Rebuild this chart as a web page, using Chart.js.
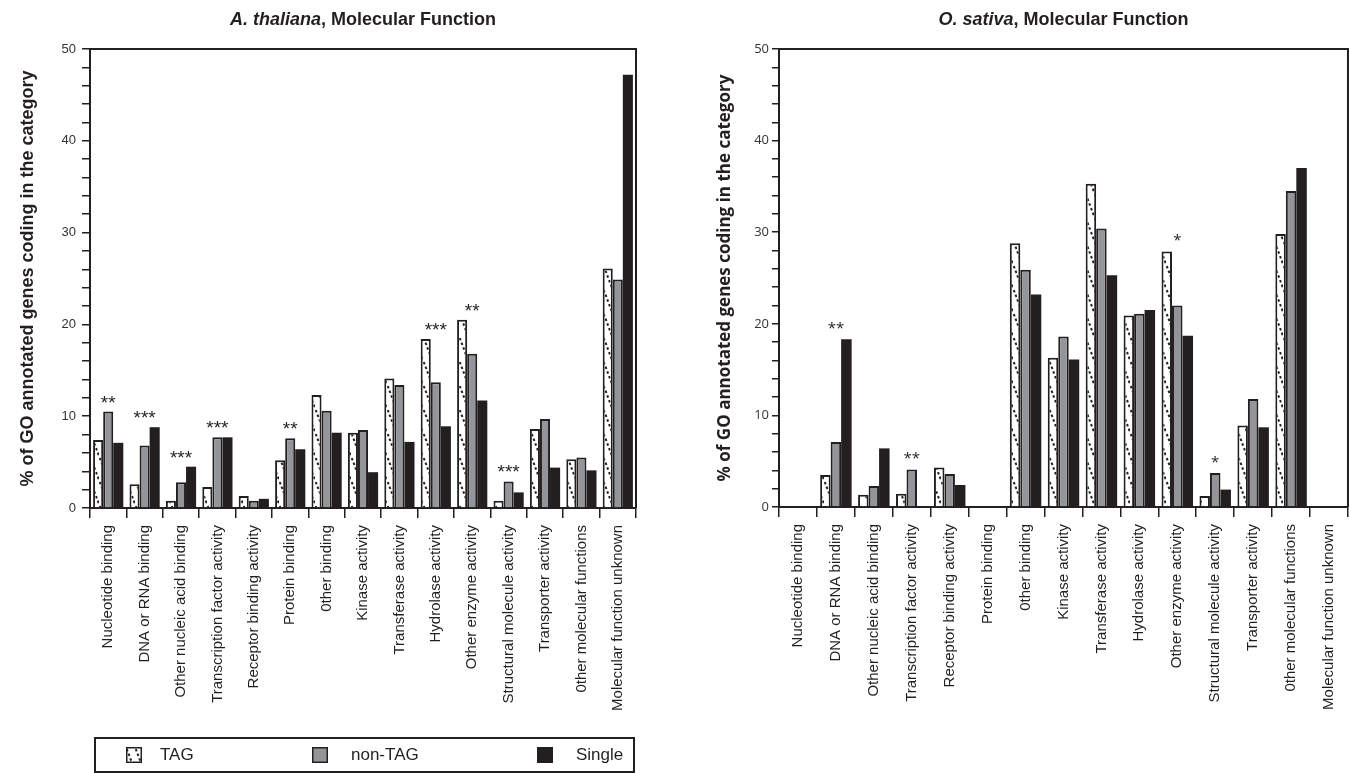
<!DOCTYPE html>
<html><head><meta charset="utf-8">
<script src="https://cdn.jsdelivr.net/npm/chart.js@4.4.0/dist/chart.umd.min.js"></script>
<style>
html,body{margin:0;padding:0;background:#fff;}
#wrap{position:relative;width:1350px;height:773px;overflow:hidden;background:#fff;}
#c1{position:absolute;left:0;top:0;}
#c2{position:absolute;left:680px;top:0;}
#legend{position:absolute;left:94px;top:737px;width:537px;height:32px;border:2px solid #231f20;font-family:"Liberation Sans",Arial,sans-serif;font-size:17px;color:#231f20;}
#legend .ic{position:absolute;top:8px;}
#legend .tx{position:absolute;top:0;line-height:32px;white-space:nowrap;}
</style></head>
<body><div id="wrap">
<canvas id="c1" width="680" height="773"></canvas>
<canvas id="c2" width="674" height="773"></canvas>
<div id="legend"></div>
</div>
<script>
const categories = ['Nucleotide binding','DNA or RNA binding','Other nucleic acid binding','Transcription factor activity','Receptor binding activity','Protein binding','0ther binding','Kinase activity','Transferase activity','Hydrolase activity','Other enzyme activity','Structural molecule activity','Transporter activity','0ther molecular functions','Molecular function unknown'];
const seriesNames = ['TAG','non-TAG','Single'];

const athTAG    = [7.4, 2.6, 0.8, 2.3, 1.3, 5.2, 12.3, 8.2, 14.1, 18.4, 20.5, 0.8, 8.6, 5.3, 26.1];
const athNonTAG = [10.5, 6.8, 2.8, 7.7, 0.8, 7.6, 10.6, 8.5, 13.4, 13.7, 16.8, 2.9, 9.7, 5.5, 24.9];
const athSingle = [7.1, 8.8, 4.5, 7.7, 1.0, 6.4, 8.2, 3.9, 7.2, 8.9, 11.7, 1.7, 4.4, 4.1, 47.2];
const athSig    = ['**','***','***','***','','**','','','','***','**','***','','',''];

const osaTAG    = [null, 3.5, 1.35, 1.45, 4.3, null, 28.8, 16.3, 35.3, 20.9, 27.9, 1.2, 8.9, 29.8, null];
const osaNonTAG = [null, 7.1, 2.3, 4.1, 3.6, null, 25.9, 18.6, 30.4, 21.1, 22.0, 3.7, 11.8, 34.5, null];
const osaSingle = [null, 18.3, 6.4, null, 2.4, null, 23.2, 16.1, 25.3, 21.5, 18.7, 1.9, 8.7, 37.0, null];
const osaSig    = ['','**','','**','','','','','','','*','*','','',''];

const yTitle = '% of GO annotated genes coding in the category';

const INK = '#231f20';
const GRAY = '#939598';
const ARIAL = '"Liberation Sans", Arial, sans-serif';
const MYRIAD = '"Open Sans", "Noto Sans", sans-serif';

function makePattern(){
  const c = document.createElement('canvas');
  c.width = 9; c.height = 24;
  const g = c.getContext('2d');
  g.fillStyle = '#fff'; g.fillRect(0,0,9,24);
  g.strokeStyle = INK; g.lineWidth = 2; g.setLineDash([2.5,2.5]);
  g.beginPath(); g.moveTo(-1,-2.7); g.lineTo(10,26.7); g.stroke();
  return c;
}
const patCanvas = makePattern();
const pattern = document.getElementById('c1').getContext('2d').createPattern(patCanvas,'repeat');
const pattern2 = document.getElementById('c2').getContext('2d').createPattern(patCanvas,'repeat');

const decor = {
  id:'decor',
  afterDraw(chart, args, opts){
    const ctx = chart.ctx, a = chart.chartArea;
    const xs = chart.scales.x, ys = chart.scales.y;
    ctx.save();
    // top and right frame
    ctx.strokeStyle = INK; ctx.lineWidth = 2;
    ctx.beginPath();
    ctx.moveTo(a.left-1, a.top); ctx.lineTo(a.right, a.top); ctx.lineTo(a.right, a.bottom);
    ctx.stroke();
    // title, centred over the plot area
    const cx = (a.left + a.right) / 2;
    ctx.fillStyle = INK; ctx.textBaseline = 'middle';
    const fi = 'italic bold 18px ' + ARIAL, fb = 'bold 18px ' + ARIAL;
    ctx.font = fi; const w1 = ctx.measureText(opts.italic).width;
    ctx.font = fb; const w2 = ctx.measureText(opts.rest).width;
    const sx = cx - (w1+w2)/2;
    ctx.textAlign = 'left';
    ctx.font = fi; ctx.fillText(opts.italic, sx, 20);
    ctx.font = fb; ctx.fillText(opts.rest, sx + w1, 20);
    // significance stars
    ctx.font = opts.starFont;
    ctx.textAlign = 'center'; ctx.textBaseline = 'alphabetic';
    opts.sig.forEach((s,i)=>{
      if(!s) return;
      let m = 0;
      chart.data.datasets.forEach(d=>{ const v = d.data[i]; if(v!=null && v>m) m=v; });
      const x = xs.getPixelForValue(i);
      const y = ys.getPixelForValue(m) - opts.starGap;
      ctx.fillText(s, x, y);
    });
    ctx.restore();
  }
};

function makeChart(id, pat, tag, non, single, cfg){
  return new Chart(document.getElementById(id), {
    type:'bar',
    data:{
      labels: categories,
      datasets:[
        {label:seriesNames[0], data:tag, backgroundColor:pat, borderColor:INK, borderWidth:2},
        {label:seriesNames[1], data:non, backgroundColor:GRAY, borderColor:INK, borderWidth:2},
        {label:seriesNames[2], data:single, backgroundColor:INK, borderColor:INK, borderWidth:0}
      ]
    },
    options:{
      responsive:false, animation:false,
      devicePixelRatio:1,
      categoryPercentage:0.83, barPercentage:1.0,
      layout:{padding:{top:49, right:cfg.padRight, left:cfg.padLeft, bottom:0}},
      plugins:{
        legend:{display:false}, tooltip:{enabled:false}, title:{display:false},
        decor:{italic:cfg.italic, rest:', Molecular Function', sig:cfg.sig, starFont:cfg.starFont, starGap:cfg.starGap}
      },
      scales:{
        x:{
          offset:true,
          grid:{drawOnChartArea:false, drawTicks:true, tickLength:10, offset:true, color:INK, lineWidth:1.5},
          border:{display:true, color:INK, width:2},
          ticks:{autoSkip:false, maxRotation:90, minRotation:90, padding:7, color:INK,
                 font:{family:ARIAL, size:15}},
          afterFit(s){ s.height = 773 - cfg.zeroY; }
        },
        y:{
          min:0, max:50,
          grid:{drawOnChartArea:false, drawTicks:true, tickLength:cfg.tickLen, color:INK, lineWidth:1.5},
          border:{display:true, color:INK, width:2},
          ticks:{stepSize:2, autoSkip:false, padding:cfg.tickPad, color:'#333',
                 callback:(v)=> (v % 10 === 0 ? String(v) : ''),
                 font:{family:cfg.tickFamily, size:13}},
          title:{display:true, text:yTitle, color:INK, padding:{top:4,bottom:4},
                 font:{family:cfg.titleFamily, size:cfg.titleSize, weight:'bold'}},
          afterFit(s){ s.width = cfg.yWidth; }
        }
      }
    },
    plugins:[decor]
  });
}

makeChart('c1', pattern, athTAG, athNonTAG, athSingle, {
  padLeft:13, yWidth:77, padRight:44, italic:'A. thaliana', sig:athSig, zeroY:508,
  starFont:'19px ' + ARIAL, starGap:3, tickLen:8, tickPad:6,
  tickFamily:ARIAL, titleFamily:ARIAL, titleSize:18
});
makeChart('c2', pattern2, osaTAG, osaNonTAG, osaSingle, {
  padLeft:31, yWidth:68, padRight:0, italic:'O. sativa', sig:osaSig, zeroY:507,
  starFont:'15px ' + MYRIAD, starGap:6, tickLen:7, tickPad:3,
  tickFamily:MYRIAD, titleFamily:MYRIAD, titleSize:17
});

// legend (HTML) built from series names
(function(){
  const lg = document.getElementById('legend');
  const iconX = [30, 216, 441];
  const textX = [64, 255, 480];
  const fills = ['pattern', GRAY, INK];
  seriesNames.forEach((n,i)=>{
    const c = document.createElement('canvas');
    c.width = 16; c.height = 16; c.className = 'ic';
    c.style.left = iconX[i] + 'px';
    const g = c.getContext('2d');
    g.fillStyle = fills[i] === 'pattern' ? g.createPattern(patCanvas,'repeat') : fills[i];
    g.fillRect(0,0,16,16);
    g.strokeStyle = INK; g.lineWidth = 1.5; g.strokeRect(0.75,0.75,14.5,14.5);
    lg.appendChild(c);
    const t = document.createElement('span');
    t.className = 'tx'; t.textContent = n; t.style.left = textX[i] + 'px';
    lg.appendChild(t);
  });
})();
</script>
</body></html>
